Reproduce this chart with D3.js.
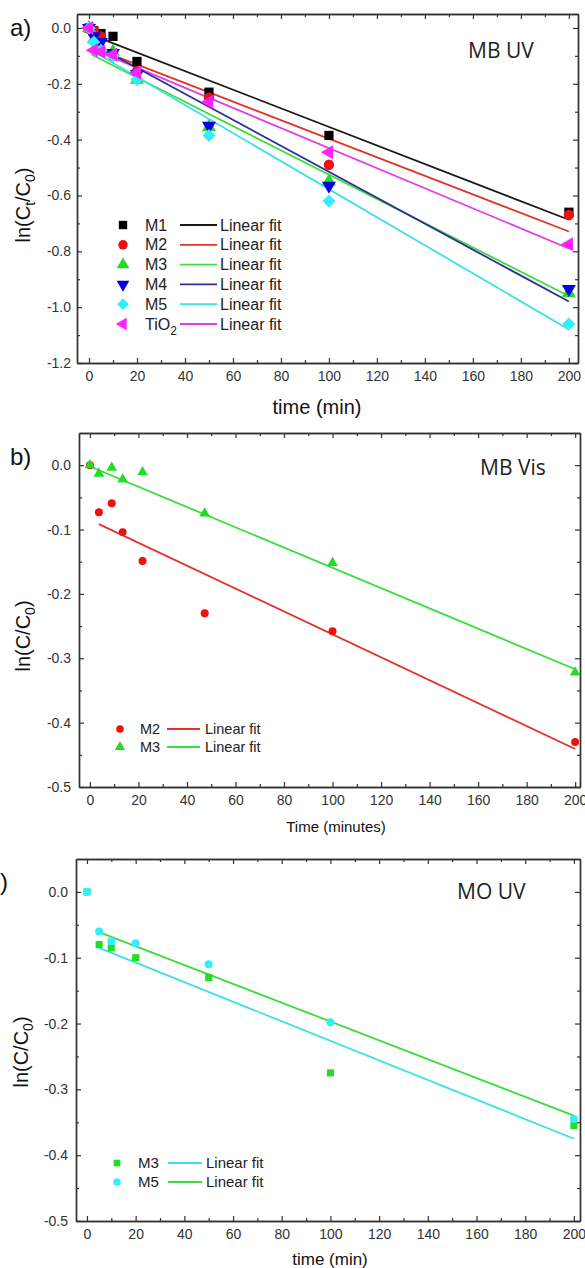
<!DOCTYPE html>
<html>
<head>
<meta charset="utf-8">
<script src="https://cdn.jsdelivr.net/npm/d3@7"></script>
<style>
  body { margin: 0; background: #fff; }
  svg { display: block; }
</style>
</head>
<body>
<div id="chart"></div>
<script>
// ---- shared ticks ----
const xMajor = [0, 20, 40, 60, 80, 100, 120, 140, 160, 180, 200];
const xMinor = [10, 30, 50, 70, 90, 110, 130, 150, 170, 190];
const aYMajor = [0, -0.2, -0.4, -0.6, -0.8, -1.0, -1.2];
const aYMinor = [-0.1, -0.3, -0.5, -0.7, -0.9, -1.1];
const bcYMajor = [0, -0.1, -0.2, -0.3, -0.4, -0.5];
const bcYMinor = [-0.05, -0.15, -0.25, -0.35, -0.45];

// ---- panel a: MB UV ----
const aTimes = [0, 2, 5, 10, 20, 50, 100, 200];
const aM1 = [0, -0.01, -0.02, -0.03, -0.12, -0.23, -0.385, -0.66];
const aM2 = [0, -0.01, -0.03, -0.10, -0.155, -0.25, -0.49, -0.67];
const aM3 = [0, -0.04, -0.07, -0.085, -0.185, -0.355, -0.55, -0.95];
const aM4 = [0, -0.03, -0.05, -0.09, -0.165, -0.35, -0.565, -0.935];
const aM5 = [0, -0.05, -0.08, -0.10, -0.185, -0.385, -0.62, -1.06];
const aTiO2 = [0, -0.08, -0.085, -0.095, -0.16, -0.265, -0.445, -0.775];
const aFitT = [1, 200];
const aFitM1 = [-0.025, -0.687];
const aFitM2 = [-0.068, -0.729];
const aFitM3 = [-0.095, -0.96];
const aFitM4 = [-0.055, -0.98];
const aFitM5 = [-0.08, -1.08];
const aFitTiO2 = [-0.074, -0.79];

// ---- panel b: MB Vis ----
const bTimes = [0, 3.7, 9, 13.5, 21.7, 47.3, 100, 200];
const bM2 = [0, -0.073, -0.059, -0.104, -0.149, -0.23, -0.258, -0.43];
const bM3 = [0, -0.013, -0.004, -0.022, -0.011, -0.075, -0.152, -0.322];
const bFitM2T = [3.7, 200];
const bFitM2 = [-0.0915, -0.441];
const bFitM3T = [0, 200];
const bFitM3 = [-0.002, -0.317];

// ---- panel c: MO UV ----
const cTimes = [0, 5, 10, 20, 50, 100, 200];
const cM3 = [0, -0.08, -0.085, -0.10, -0.13, -0.275, -0.355];
const cM5 = [0, -0.06, -0.075, -0.078, -0.11, -0.198, -0.345];
const cFitT = [5, 200];
const cFitGreen = [-0.061, -0.34];
const cFitCyan = [-0.085, -0.375];

const W = 585, H = 1268;
const axisColor = "#333";
const tickFont = "'Liberation Sans', Arial, sans-serif";

const svg = d3.select("#chart").append("svg")
  .attr("width", W).attr("height", H)
  .style("background", "#fff");

function symbolPath(shape, size) {
  const types = {
    square: d3.symbolSquare, circle: d3.symbolCircle, up: d3.symbolTriangle,
    down: d3.symbolTriangle, left: d3.symbolTriangle, diamond: d3.symbolSquare
  };
  return d3.symbol().type(types[shape]).size(size)();
}
const rot = { down: 180, left: -90, diamond: 45 };

function drawMarker(g, shape, size, color, cx, cy) {
  g.append("path")
    .attr("d", symbolPath(shape, size))
    .attr("transform", `translate(${cx},${cy}) rotate(${rot[shape] || 0})`)
    .attr("fill", color);
}

function drawPanel(p) {
  const x = d3.scaleLinear().domain(p.xDomain).range(p.xRange);
  const y = d3.scaleLinear().domain(p.yDomain).range(p.yRange);
  const g = svg.append("g");
  const [xl, xr] = p.xRange, [yb, yt] = p.yRange;

  // frame + ticks (all inward)
  g.append("g").attr("transform", `translate(0,${yb})`)
    .call(d3.axisBottom(x).tickValues(xMajor).tickSize(-5).tickSizeOuter(0).tickPadding(8));
  g.append("g").attr("transform", `translate(0,${yb})`)
    .call(d3.axisBottom(x).tickValues(xMinor).tickSize(-3).tickSizeOuter(0).tickFormat(""));
  g.append("g").attr("transform", `translate(0,${yt})`)
    .call(d3.axisTop(x).tickValues(xMajor).tickSize(-5).tickSizeOuter(0).tickFormat(""));
  g.append("g").attr("transform", `translate(0,${yt})`)
    .call(d3.axisTop(x).tickValues(xMinor).tickSize(-3).tickSizeOuter(0).tickFormat(""));
  g.append("g").attr("transform", `translate(${xl},0)`)
    .call(d3.axisLeft(y).tickValues(p.yMajor).tickSize(-5).tickSizeOuter(0)
      .tickPadding(p.yPad).tickFormat(d => d.toFixed(1)));
  g.append("g").attr("transform", `translate(${xl},0)`)
    .call(d3.axisLeft(y).tickValues(p.yMinor).tickSize(-3).tickSizeOuter(0).tickFormat(""));
  g.append("g").attr("transform", `translate(${xr},0)`)
    .call(d3.axisRight(y).tickValues(p.yMajor).tickSize(-5).tickSizeOuter(0).tickFormat(""));
  g.append("g").attr("transform", `translate(${xr},0)`)
    .call(d3.axisRight(y).tickValues(p.yMinor).tickSize(-3).tickSizeOuter(0).tickFormat(""));

  g.selectAll(".domain").attr("stroke", axisColor).attr("stroke-width", 1.4);
  g.selectAll(".tick line").attr("stroke", axisColor).attr("stroke-width", 1.2);
  g.selectAll(".tick text").attr("fill", "#333")
    .style("font-family", tickFont).style("font-size", "14px");

  // fit lines
  p.fits.forEach(f => {
    g.append("line")
      .attr("x1", x(f.t[0])).attr("x2", x(f.t[1]))
      .attr("y1", y(f.v[0])).attr("y2", y(f.v[1]))
      .attr("stroke", f.color).attr("stroke-width", 1.8);
  });

  // points
  p.series.forEach(s => {
    s.t.forEach((t, i) => drawMarker(g, s.shape, p.markerSize, s.color, x(t), y(s.v[i])));
  });

  // panel title
  g.append("text").attr("x", p.title.x).attr("y", p.title.y)
    .attr("fill", "#222")
    .style("font-family", "'Open Sans', sans-serif").style("font-size", "21px")
    .text(p.title.text);

  // panel letter
  g.append("text").attr("x", p.letter.x).attr("y", p.letter.y)
    .attr("fill", "#111")
    .style("font-family", tickFont).style("font-size", "24px")
    .text(p.letter.text);

  // x title
  g.append("text").attr("x", p.xTitle.x).attr("y", p.xTitle.y)
    .attr("text-anchor", "middle").attr("fill", "#111")
    .style("font-family", tickFont).style("font-size", p.xTitle.size + "px")
    .text(p.xTitle.text);

  // y title (rotated, with subscripts)
  const yt1 = g.append("text")
    .attr("transform", `translate(${p.yTitle.x},${p.yTitle.y}) rotate(-90)`)
    .attr("text-anchor", "middle").attr("fill", "#111")
    .style("font-family", tickFont).style("font-size", "20px");
  yt1.append("tspan").text("ln(C");
  if (p.yTitle.sub) {
    yt1.append("tspan").attr("dy", 5).style("font-size", "14px").text(p.yTitle.sub);
    yt1.append("tspan").attr("dy", -5).text("/C");
  } else {
    yt1.append("tspan").text("/C");
  }
  yt1.append("tspan").attr("dy", 5).style("font-size", "14px").text("0");
  yt1.append("tspan").attr("dy", -5).text(")");

  // legend
  const L = p.legend;
  L.items.forEach((it, i) => {
    const ry = L.y0 + i * L.dy;
    drawMarker(g, it.shape, L.markerSize, it.color, L.sx, ry);
    const lab = g.append("text").attr("x", L.lx).attr("y", ry).attr("dy", "0.35em")
      .attr("fill", "#222")
      .style("font-family", tickFont).style("font-size", L.font + "px");
    lab.append("tspan").text(it.label);
    if (it.sub) lab.append("tspan").attr("dy", 5).style("font-size", (L.font - 4) + "px").text(it.sub);
    g.append("line").attr("x1", L.l1).attr("x2", L.l2).attr("y1", ry).attr("y2", ry)
      .attr("stroke", it.line).attr("stroke-width", 1.8);
    g.append("text").attr("x", L.fx).attr("y", ry).attr("dy", "0.35em")
      .attr("fill", "#222")
      .style("font-family", tickFont).style("font-size", L.font + "px")
      .text("Linear fit");
  });
}

const C = {
  black: "#000000", red: "#f01010", green: "#22dd22", blue: "#0000ee", cyan: "#33eeff", magenta: "#ff22ff",
  lBlack: "#1a1a1a", lRed: "#e0352c", lGreen: "#3ddc3d", lBlue: "#2e3192", lCyan: "#3ee0e8", lMagenta: "#e03ee6"
};

drawPanel({
  xDomain: [-5, 203.8], xRange: [77, 578],
  yDomain: [-1.2, 0.05], yRange: [363, 14],
  yMajor: aYMajor, yMinor: aYMinor, yPad: 6, markerSize: 85,
  fits: [
    { t: aFitT, v: aFitM1, color: C.lBlack },
    { t: aFitT, v: aFitM2, color: C.lRed },
    { t: aFitT, v: aFitTiO2, color: C.lMagenta },
    { t: aFitT, v: aFitM3, color: C.lGreen },
    { t: aFitT, v: aFitM4, color: C.lBlue },
    { t: aFitT, v: aFitM5, color: C.lCyan }
  ],
  series: [
    { t: aTimes, v: aM1, shape: "square", color: C.black },
    { t: aTimes, v: aM2, shape: "circle", color: C.red },
    { t: aTimes, v: aM3, shape: "up", color: C.green },
    { t: aTimes, v: aM4, shape: "down", color: C.blue },
    { t: aTimes, v: aM5, shape: "diamond", color: C.cyan },
    { t: aTimes, v: aTiO2, shape: "left", color: C.magenta }
  ],
  title: { text: "MB UV", x: 468, y: 58 },
  letter: { text: "a)", x: 10, y: 36 },
  xTitle: { text: "time (min)", x: 317, y: 414, size: 20 },
  yTitle: { x: 30, y: 205, sub: "t" },
  legend: {
    sx: 123, lx: 145, l1: 180, l2: 217, fx: 220, y0: 225, dy: 19.8, font: 16, markerSize: 70,
    items: [
      { label: "M1", shape: "square", color: C.black, line: C.lBlack },
      { label: "M2", shape: "circle", color: C.red, line: C.lRed },
      { label: "M3", shape: "up", color: C.green, line: C.lGreen },
      { label: "M4", shape: "down", color: C.blue, line: C.lBlue },
      { label: "M5", shape: "diamond", color: C.cyan, line: C.lCyan },
      { label: "TiO", sub: "2", shape: "left", color: C.magenta, line: C.lMagenta }
    ]
  }
});

drawPanel({
  xDomain: [-4.5, 202], xRange: [79, 580],
  yDomain: [-0.5, 0.05], yRange: [787, 433],
  yMajor: bcYMajor, yMinor: bcYMinor, yPad: 8, markerSize: 50,
  fits: [
    { t: bFitM2T, v: bFitM2, color: C.lRed },
    { t: bFitM3T, v: bFitM3, color: C.lGreen }
  ],
  series: [
    { t: bTimes, v: bM2, shape: "circle", color: C.red },
    { t: bTimes, v: bM3, shape: "up", color: C.green }
  ],
  title: { text: "MB Vis", x: 480, y: 475 },
  letter: { text: "b)", x: 10, y: 465 },
  xTitle: { text: "Time (minutes)", x: 336, y: 832, size: 15 },
  yTitle: { x: 30, y: 636, sub: null },
  legend: {
    sx: 120, lx: 140, l1: 167, l2: 200, fx: 205, y0: 729, dy: 18, font: 14.5, markerSize: 45,
    items: [
      { label: "M2", shape: "circle", color: C.red, line: C.lRed },
      { label: "M3", shape: "up", color: C.green, line: C.lGreen }
    ]
  }
});

drawPanel({
  xDomain: [-4.5, 202.5], xRange: [76, 580],
  yDomain: [-0.5, 0.05], yRange: [1221, 859],
  yMajor: bcYMajor, yMinor: bcYMinor, yPad: 8, markerSize: 50,
  fits: [
    { t: cFitT, v: cFitGreen, color: C.lGreen },
    { t: cFitT, v: cFitCyan, color: C.lCyan }
  ],
  series: [
    { t: cTimes, v: cM3, shape: "square", color: C.green },
    { t: cTimes, v: cM5, shape: "circle", color: C.cyan }
  ],
  title: { text: "MO UV", x: 457, y: 899 },
  letter: { text: "c)", x: -12, y: 890 },
  xTitle: { text: "time (min)", x: 330, y: 1265, size: 17 },
  yTitle: { x: 28, y: 1052, sub: null },
  legend: {
    sx: 117, lx: 138, l1: 168, l2: 202, fx: 206, y0: 1163, dy: 19, font: 15, markerSize: 45,
    items: [
      { label: "M3", shape: "square", color: C.green, line: C.lCyan },
      { label: "M5", shape: "circle", color: C.cyan, line: C.lGreen }
    ]
  }
});
</script>
</body>
</html>
